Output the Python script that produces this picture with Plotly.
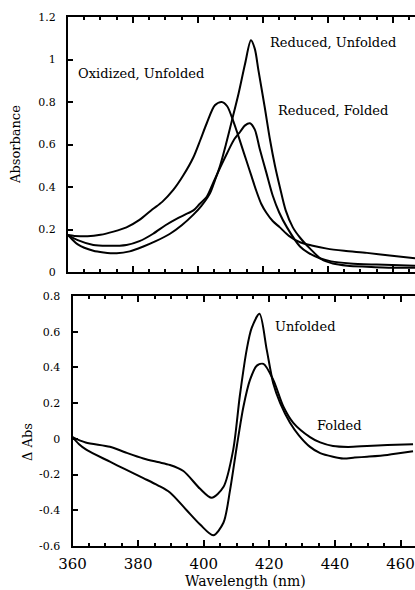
import plotly.graph_objects as go

# ---------------- data (top panel: absorbance) ----------------
wl_ox = [360, 362, 366, 370, 374, 378, 382, 386, 389, 392.4, 395.5, 398.6, 400.7, 402.7, 405.2, 407.3,
         409, 410.4, 412, 413.5, 415, 416.5, 418, 419.5, 421, 423, 425.2, 428, 431.4, 435, 439.7, 445, 452, 459, 466.8]
abs_ox = [0.174, 0.17, 0.168, 0.175, 0.19, 0.21, 0.245, 0.295, 0.33, 0.386, 0.455, 0.54, 0.62, 0.70, 0.785, 0.80,
          0.78, 0.73, 0.66, 0.59, 0.52, 0.45, 0.38, 0.32, 0.28, 0.24, 0.21, 0.17, 0.14, 0.125, 0.11, 0.10, 0.09, 0.078, 0.065]

wl_ru = [360, 363, 367.8, 371, 375, 379, 383.2, 387, 391.4, 395, 398.6, 401, 403.7, 405.2, 406.8, 408.6, 410.4,
         412.5, 414.5, 416.3, 417.5, 418.6, 420.5, 422.2, 423.7, 425.2, 427, 429.2, 431.5, 434.5, 438, 441.5, 446, 452, 460, 466.8]
abs_ru = [0.174, 0.13, 0.10, 0.092, 0.088, 0.097, 0.12, 0.145, 0.18, 0.22, 0.27, 0.31, 0.37, 0.43, 0.50, 0.60, 0.71,
          0.84, 0.98, 1.09, 1.05, 0.95, 0.78, 0.62, 0.50, 0.40, 0.29, 0.21, 0.16, 0.11, 0.06, 0.04, 0.03, 0.025, 0.02, 0.02]

wl_rf = [360, 363, 367.8, 372, 378, 382, 386.2, 390, 393.4, 396, 398.6, 400.5, 402.7, 404.7, 406.8, 409, 411,
         413, 414.5, 416, 417.5, 419, 421, 423, 425, 427.4, 431.4, 434, 437.5, 441, 446.8, 455, 466.8]
abs_rf = [0.174, 0.15, 0.127, 0.123, 0.127, 0.145, 0.18, 0.22, 0.25, 0.27, 0.29, 0.32, 0.354, 0.42, 0.49, 0.56, 0.62,
          0.66, 0.69, 0.70, 0.67, 0.58, 0.47, 0.36, 0.28, 0.21, 0.12, 0.09, 0.065, 0.05, 0.04, 0.035, 0.03]

# ---------------- data (bottom panel: difference spectra) ----------------
wl_unf = [360, 364, 371.4, 376, 381.6, 386, 389.7, 393.8, 398.9, 402.4, 406, 409, 411, 413.1, 414.6, 417,
          419.2, 421.2, 423.3, 426.3, 429, 432.4, 435.5, 439.4, 442.5, 446, 449.8, 456, 463.8]
dabs_unf = [0.01, -0.02, -0.044, -0.075, -0.11, -0.13, -0.146, -0.18, -0.28, -0.33, -0.27, -0.06, 0.24, 0.50, 0.62, 0.70,
            0.50, 0.31, 0.20, 0.09, 0.02, -0.045, -0.08, -0.10, -0.11, -0.105, -0.10, -0.09, -0.07]

wl_fol = [360, 362, 364.3, 371.4, 376, 381.6, 386, 389.7, 394.8, 398.9, 402.9, 406, 408, 410.1, 412.1, 414.1,
          416.2, 418.2, 421.2, 424.3, 427.3, 432.4, 435.5, 439.4, 444, 449.8, 456, 463.8]
dabs_fol = [0.01, -0.03, -0.062, -0.128, -0.17, -0.22, -0.26, -0.30, -0.40, -0.48, -0.54, -0.47, -0.29, -0.04, 0.18, 0.33,
            0.41, 0.42, 0.33, 0.18, 0.09, 0.01, -0.02, -0.04, -0.045, -0.04, -0.035, -0.03]

x_ticks = [360, 380, 400, 420, 440, 460]
x_ticktext = ["360", "380", "400", "420", "440", "460"]
y1_ticks = [0, 0.2, 0.4, 0.6, 0.8, 1.0, 1.2]
y1_ticktext = ["0", "0.2", "0.4", "0.6", "0.8", "1", "1.2"]
y2_ticks = [-0.6, -0.4, -0.2, 0, 0.2, 0.4, 0.6, 0.8]
y2_ticktext = ["-0.6", "-0.4", "-0.2", "0", "0.2", "0.4", "0.6", "0.8"]

W, H = 415, 590
FONT = "DejaVu Serif"
line = dict(color="black", width=2, shape="spline", smoothing=0.8)

fig = go.Figure()
fig.add_trace(go.Scatter(x=wl_ox, y=abs_ox, mode="lines", line=line, xaxis="x", yaxis="y"))
fig.add_trace(go.Scatter(x=wl_ru, y=abs_ru, mode="lines", line=line, xaxis="x", yaxis="y"))
fig.add_trace(go.Scatter(x=wl_rf, y=abs_rf, mode="lines", line=line, xaxis="x", yaxis="y"))
fig.add_trace(go.Scatter(x=wl_unf, y=dabs_unf, mode="lines", line=line, xaxis="x2", yaxis="y2"))
fig.add_trace(go.Scatter(x=wl_fol, y=dabs_fol, mode="lines", line=line, xaxis="x2", yaxis="y2"))

def xaxis(domain, rng, anchor, labels):
    return dict(domain=domain, range=rng, anchor=anchor, showgrid=False, zeroline=False,
                showline=True, linecolor="black", linewidth=2, mirror="allticks",
                ticks="inside", ticklen=6, tickwidth=1.5, tickcolor="black",
                tickvals=x_ticks, ticktext=x_ticktext, showticklabels=labels,
                tickfont=dict(family=FONT, size=15, color="black"), ticklabelstandoff=3,
                minor=dict(dtick=5, tick0=360, ticks="inside", ticklen=3, tickwidth=1.5, tickcolor="black"),
                automargin=False, fixedrange=True)

def yaxis(domain, rng, anchor, vals, text):
    return dict(domain=domain, range=rng, anchor=anchor, showgrid=False, zeroline=False,
                showline=True, linecolor="black", linewidth=2, mirror=False,
                ticks="inside", ticklen=5, tickwidth=1.5, tickcolor="black",
                tickvals=vals, ticktext=text,
                tickfont=dict(family=FONT, size=11, color="black"), ticklabelstandoff=8,
                automargin=False, fixedrange=True)

top_x0 = 68 / W
bot_x0 = 72.5 / W
fig.update_layout(
    width=W, height=H, margin=dict(l=0, r=0, t=0, b=0),
    paper_bgcolor="white", plot_bgcolor="white", showlegend=False,
    xaxis=xaxis([top_x0, 1], [360, 466.8], "y", False),
    yaxis=yaxis([1 - 272 / H, 1 - 17 / H], [0, 1.2], "x", y1_ticks, y1_ticktext),
    xaxis2=xaxis([bot_x0, 1], [360, 464.4], "y2", True),
    yaxis2=yaxis([1 - 546 / H, 1 - 296 / H], [-0.6, 0.8], "x2", y2_ticks, y2_ticktext),
)

ann_font = dict(family=FONT, size=13, color="black")
notes = [
    ("Oxidized, Unfolded", 362.5, 0.936, "x", "y"),
    ("Reduced, Unfolded", 421.5, 1.078, "x", "y"),
    ("Reduced, Folded", 424.0, 0.758, "x", "y"),
    ("Unfolded", 421.2, 0.628, "x2", "y2"),
    ("Folded", 433.9, 0.074, "x2", "y2"),
]
for t, xx, yy, xr, yr in notes:
    fig.add_annotation(text=t, x=xx, y=yy, xref=xr, yref=yr, xanchor="left", yanchor="middle",
                       showarrow=False, font=ann_font)

fig.add_annotation(text="Absorbance", x=15 / W, y=1 - 145 / H, xref="paper", yref="paper",
                   xanchor="center", yanchor="middle",
                   textangle=-90, showarrow=False, font=dict(family=FONT, size=13, color="black"))
fig.add_annotation(text="Δ Abs", x=27.5 / W, y=1 - 442.5 / H, xref="paper", yref="paper",
                   xanchor="center", yanchor="middle",
                   textangle=-90, showarrow=False, font=dict(family=FONT, size=13, color="black"))
fig.add_annotation(text="Wavelength (nm)", x=245 / W, y=1 - 581 / H, xref="paper", yref="paper",
                   xanchor="center", yanchor="middle",
                   showarrow=False, font=dict(family=FONT, size=14, color="black"))

fig.write_html("out.html")
